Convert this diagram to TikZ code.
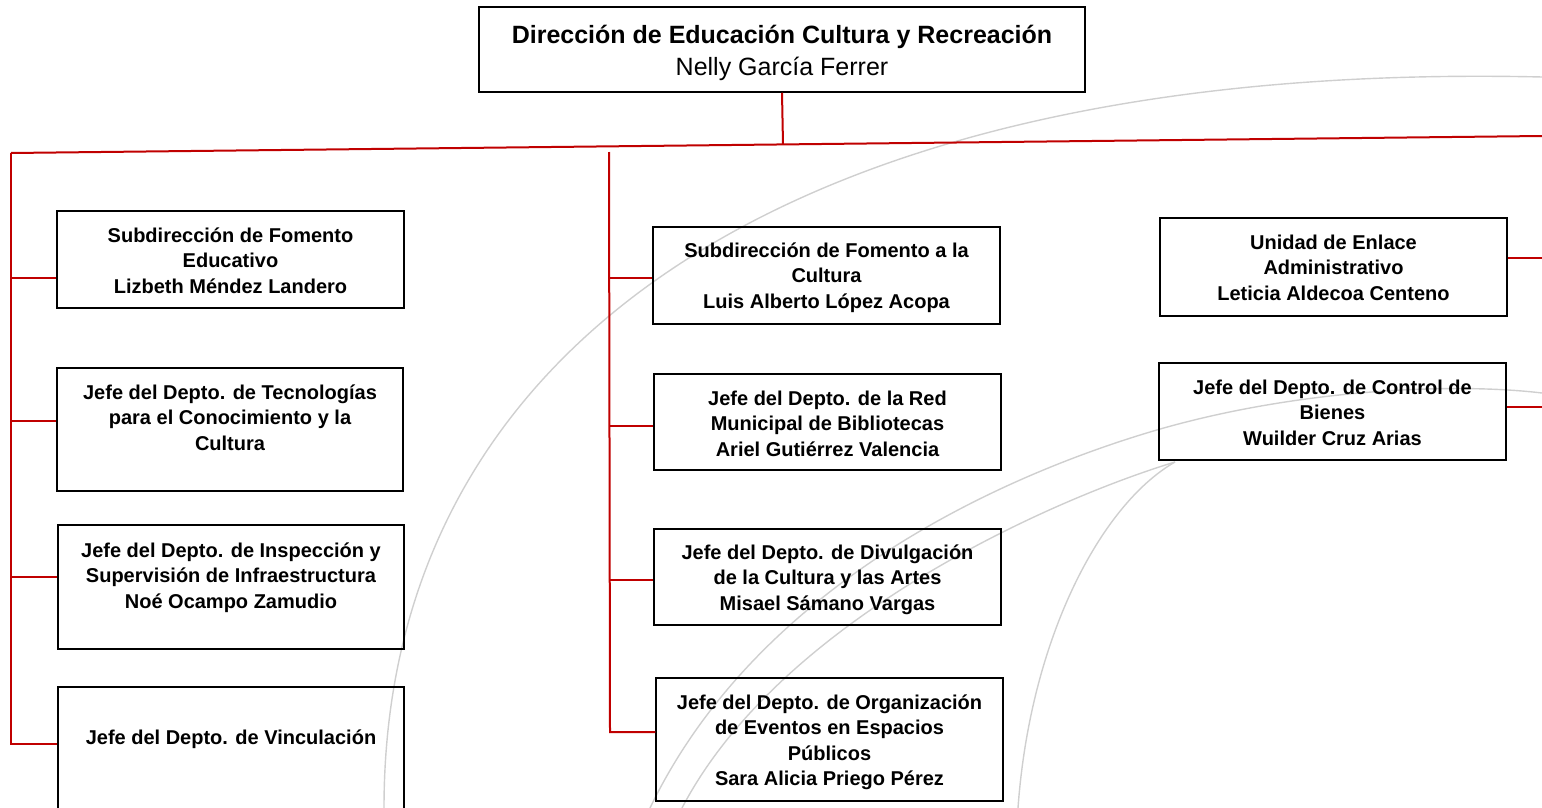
\documentclass[tikz,border=0pt]{standalone}
\usepackage{fontspec}
\setmainfont{Liberation Sans}
\definecolor{orgred}{HTML}{C00000}
\definecolor{arcgray}{HTML}{CFCFCF}
\begin{document}
\begin{tikzpicture}[x=1pt,y=-1pt,
  box/.style={draw=black, line width=1.5pt, rectangle, inner sep=0pt},
  txt/.style={font=\fontsize{20}{25.5}\selectfont\bfseries, align=center, anchor=north, inner sep=0pt},
  link/.style={draw=orgred, line width=2pt},
  deco/.style={draw=arcgray, line width=1.4pt}]
\useasboundingbox (0,0) rectangle (1542,808);
\clip (0,0) rectangle (1542,808);
% decorative arcs
\draw[deco] (384,808) .. controls (384,340) and (800,60) .. (1542,77);
\draw[deco] (1542,393) .. controls (1450,382) and (1290,390) .. (1150,432)
                       .. controls (1010,474) and (760,580) .. (650,808);
\draw[deco] (1175,462) .. controls (1050,500) and (780,620) .. (682,808);
\draw[deco] (1175,462) .. controls (1100,505) and (1030,640) .. (1018,808);
% top box
\node[box, minimum width=606, minimum height=85] (top) at (782,49.5) {};
\node[anchor=north, inner sep=0pt, align=center, font=\fontsize{25}{32}\selectfont] (topt) at (782,20.6) {\strut\textbf{Dirección de Educación Cultura y Recreación}\\Nelly García Ferrer};
% left column
\node[box, minimum width=347, minimum height=97] (b1) at (230.5,259.5) {};
\node[txt] (b1t) at (230.5,224.15) {\strut Subdirección de Fomento\\Educativo\\Lizbeth Méndez Landero};
\node[box, minimum width=346, minimum height=123] (b2) at (230,429.5) {};
\node[txt] (b2t) at (230,381.15) {\strut Jefe del Depto. de Tecnologías\\para el Conocimiento y la\\Cultura};
\node[box, minimum width=346, minimum height=124] (b3) at (231,587) {};
\node[txt] (b3t) at (231,539.15) {\strut Jefe del Depto. de Inspección y\\Supervisión de Infraestructura\\Noé Ocampo Zamudio};
\node[box, minimum width=346, minimum height=124] (b4) at (231,749) {};
\node[txt] (b4t) at (231,726.15) {\strut Jefe del Depto. de Vinculación};
% middle column
\node[box, minimum width=347, minimum height=97] (m1) at (826.5,275.5) {};
\node[txt] (m1t) at (826.5,239.15) {\strut Subdirección de Fomento a la\\Cultura\\Luis Alberto López Acopa};
\node[box, minimum width=347, minimum height=96] (m2) at (827.5,422) {};
\node[txt] (m2t) at (827.5,387.15) {\strut Jefe del Depto. de la Red\\Municipal de Bibliotecas\\Ariel Gutiérrez Valencia};
\node[box, minimum width=347, minimum height=96] (m3) at (827.5,577) {};
\node[txt] (m3t) at (827.5,541.15) {\strut Jefe del Depto. de Divulgación\\de la Cultura y las Artes\\Misael Sámano Vargas};
\node[box, minimum width=347, minimum height=123] (m4) at (829.5,739.5) {};
\node[txt] (m4t) at (829.5,691.15) {\strut Jefe del Depto. de Organización\\de Eventos en Espacios\\Públicos\\Sara Alicia Priego Pérez};
% right column
\node[box, minimum width=347, minimum height=98] (r1) at (1333.5,267) {};
\node[txt] (r1t) at (1333.5,231.15) {\strut Unidad de Enlace\\Administrativo\\Leticia Aldecoa Centeno};
\node[box, minimum width=347, minimum height=97] (r2) at (1332.5,411.5) {};
\node[txt] (r2t) at (1332.5,376.15) {\strut Jefe del Depto. de Control de\\Bienes\\Wuilder Cruz Arias};
% red connectors
\coordinate (busL) at (11,153);
\coordinate (busR) at (1542,136);
\coordinate (busM) at (783,144.4);
\draw[link] (busL) -- (busR);
\draw[link] (top.south) -- (busM);
\coordinate (lbot) at (11,744);
\draw[link] (busL) -- (lbot) -- (lbot -| b4.west);
\coordinate (l1) at (11,278);
\coordinate (l2) at (11,421);
\coordinate (l3) at (11,577);
\draw[link] (l1) -- (l1 -| b1.west);
\draw[link] (l2) -- (l2 -| b2.west);
\draw[link] (l3) -- (l3 -| b3.west);
\coordinate (mtop) at (609,152);
\coordinate (mbot) at (610,732);
\draw[link] (mtop) -- (mbot) -- (mbot -| m4.west);
\coordinate (c1) at (609,278);
\coordinate (c2) at (609,426);
\coordinate (c3) at (610,580);
\draw[link] (c1) -- (c1 -| m1.west);
\draw[link] (c2) -- (c2 -| m2.west);
\draw[link] (c3) -- (c3 -| m3.west);
\coordinate (e1) at (1542,258);
\coordinate (e2) at (1542,407);
\draw[link] (r1.east |- e1) -- (e1);
\draw[link] (r2.east |- e2) -- (e2);
\end{tikzpicture}
\end{document}
